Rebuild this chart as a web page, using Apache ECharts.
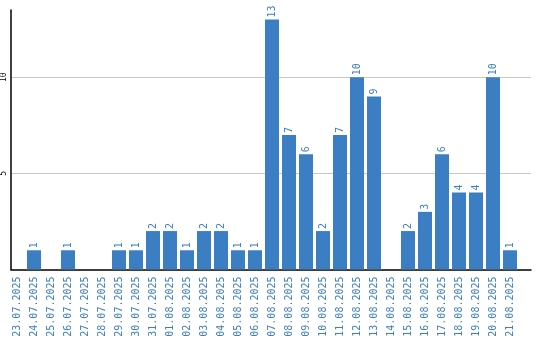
<!DOCTYPE html>
<html><head><meta charset="utf-8">
<script src="https://cdn.jsdelivr.net/npm/echarts@6/dist/echarts.min.js"></script>
<style>html,body{margin:0;padding:0;background:#fff}#c{width:540px;height:340px}</style>
</head><body><div id="c"></div>
<script>
var categories = ["23.07.2025","24.07.2025","25.07.2025","26.07.2025","27.07.2025","28.07.2025","29.07.2025","30.07.2025","31.07.2025","01.08.2025","02.08.2025","03.08.2025","04.08.2025","05.08.2025","06.08.2025","07.08.2025","08.08.2025","09.08.2025","10.08.2025","11.08.2025","12.08.2025","13.08.2025","14.08.2025","15.08.2025","16.08.2025","17.08.2025","18.08.2025","19.08.2025","20.08.2025","21.08.2025"];
var values = [0,1,0,1,0,0,1,1,2,2,1,2,2,1,1,13,7,6,2,7,10,9,0,2,3,6,4,4,10,1];
var yTicks = [5, 10];

var BLUE = '#3b7ec3';
var chart = echarts.init(document.getElementById('c'));
chart.setOption({
  animation: false,
  grid: [
    {left: 10.5, right: 9, top: 10, bottom: 70.5},
    {left: 8.5, width: 510, top: 10, bottom: 70.5}
  ],
  xAxis: [
    {gridIndex: 0, type: 'value', min: 0, max: 1,
     axisLine: {show: true, lineStyle: {color: '#000', width: 1.5}},
     axisTick: {show: false}, axisLabel: {show: false}, splitLine: {show: false}},
    {gridIndex: 1, type: 'category', data: categories,
     axisLine: {show: false}, axisTick: {show: false},
     axisLabel: {interval: 0, rotate: 90, color: BLUE, fontFamily: 'DejaVu Sans Mono', fontSize: 10, margin: 7}}
  ],
  yAxis: [
    {gridIndex: 0, type: 'value', min: 0, max: 13.5, interval: 5,
     axisLine: {show: true, lineStyle: {color: '#000', width: 1.5}},
     axisTick: {show: false},
     axisLabel: {rotate: 90, color: '#000', fontFamily: 'DejaVu Sans Mono', fontSize: 8, margin: 3,
       formatter: function (v) { return yTicks.indexOf(v) >= 0 ? String(v) : ''; }},
     splitLine: {show: true, showMinLine: false, showMaxLine: false, lineStyle: {color: '#c8c8c8', width: 1}}},
    {gridIndex: 1, type: 'value', min: 0, max: 13.5, show: false}
  ],
  series: [{
    type: 'bar', xAxisIndex: 1, yAxisIndex: 1,
    data: values.map(function (v) { return v === 0 ? null : v; }),
    barWidth: 14,
    itemStyle: {color: BLUE},
    label: {show: true, position: 'top', rotate: 90, align: 'left', verticalAlign: 'middle',
      distance: 2, color: BLUE, fontFamily: 'DejaVu Sans Mono', fontSize: 10}
  }]
});
</script></body></html>
